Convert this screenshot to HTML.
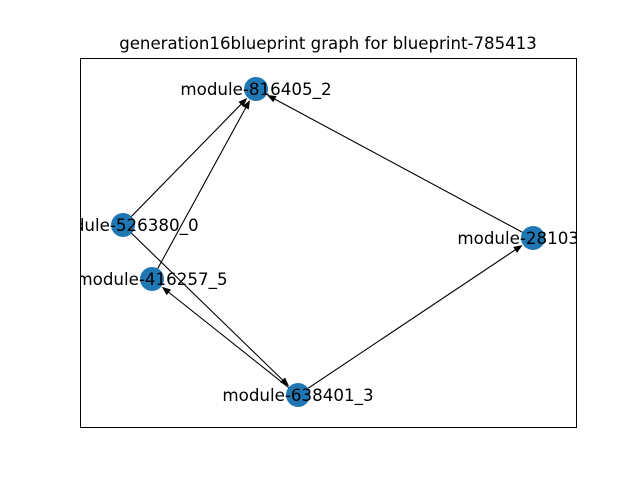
<!DOCTYPE html>
<html><head><meta charset="utf-8"><style>
html,body{margin:0;padding:0;background:#fff;width:640px;height:480px;overflow:hidden}
</style></head><body>
<svg id="s" width="640" height="480" xmlns="http://www.w3.org/2000/svg" font-family="DejaVu Sans, Liberation Sans, sans-serif">
<defs><clipPath id="c"><rect x="80" y="58" width="496" height="369"/></clipPath></defs>
<text x="328" y="49" font-size="16.6" text-anchor="middle">generation16blueprint graph for blueprint-785413</text>
<g id="edges"></g>
<g id="nodes"></g>
<g id="labels" clip-path="url(#c)" font-size="16.7" text-anchor="middle"></g>
<rect x="80.5" y="58.5" width="496" height="369" fill="none" stroke="#000" stroke-width="1"/>
</svg>
<script>
var N={a:[256,89,"module-816405_2"],b:[123,225,"module-526380_0"],c:[152,279,"module-416257_5"],d:[298,395,"module-638401_3"],e:[533,238,"module-281036_1"]};
var E=[["b","a"],["c","a"],["e","a"],["b","d"],["d","c"],["d","e"]];
var ns="http://www.w3.org/2000/svg";
function el(t,a,p){var x=document.createElementNS(ns,t);for(var k in a)x.setAttribute(k,a[k]);document.getElementById(p).appendChild(x);return x;}
E.forEach(function(ed){var s=N[ed[0]],t=N[ed[1]];var dx=t[0]-s[0],dy=t[1]-s[1],L=Math.hypot(dx,dy),ux=dx/L,uy=dy/L;
var tx=t[0]-ux*12.5,ty=t[1]-uy*12.5;var bx=tx-ux*9,by=ty-uy*9;
el("line",{x1:s[0],y1:s[1],x2:bx+ux*2,y2:by+uy*2,stroke:"#000","stroke-width":1.1},"edges");
var px=-uy*3.5,py=ux*3.5;
el("polygon",{points:tx+","+ty+" "+(bx+px)+","+(by+py)+" "+(bx-px)+","+(by-py),fill:"#000"},"edges");});
for(var k in N){var n=N[k];el("circle",{cx:n[0],cy:n[1],r:12,fill:"#1f77b4"},"nodes");
var t=el("text",{x:n[0],y:n[1]+6},"labels");t.textContent=n[2];}
</script>
</body></html>
